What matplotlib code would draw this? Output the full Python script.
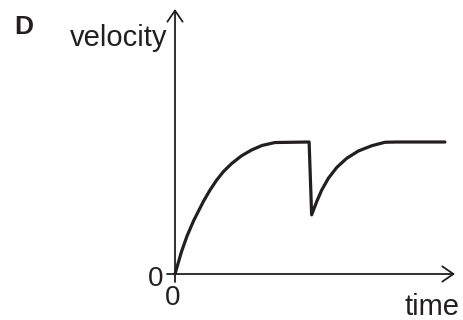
import matplotlib
matplotlib.use('Agg')
import matplotlib.pyplot as plt

plt.rcParams['font.family'] = ['Liberation Sans', 'DejaVu Sans']

# velocity vs time (arbitrary units)
time = [0, 0.06, 0.23, 0.43, 0.67, 1.01, 1.25, 1.49, 1.73, 2.03, 2.38,
        2.74, 3.11, 3.57, 4.79, 4.88, 5.06, 5.24, 5.48, 5.78, 6.13, 6.55,
        7.03, 7.50, 7.93, 9.64]
velocity = [0, 0.22, 0.84, 1.44, 2.03, 2.74, 3.18, 3.56, 3.88, 4.19, 4.48,
            4.70, 4.87, 4.98, 5.0, 2.24, 2.74, 3.18, 3.63, 4.04, 4.38, 4.66,
            4.86, 4.99, 5.0, 5.0]

label = 'D'
xlabel = 'time'
ylabel = 'velocity'
ink = '#231f20'

W, H = 464, 320
fig = plt.figure(figsize=(W / 100, H / 100), dpi=100)
ax = fig.add_axes([0, 0, 1, 1])
# 28 px per time unit, 26.4 px per velocity unit, origin at pixel (175, 274)
ax.set_xlim(-175 / 28, (W - 175) / 28)
ax.set_ylim(-(H - 274) / 26.4, 274 / 26.4)
ax.axis('off')

arrow = dict(arrowstyle='->,head_length=0.8,head_width=0.55',
             color=ink, lw=1.3, shrinkA=0, shrinkB=0)
ax.annotate('', xy=(280 / 28, 0), xytext=(-8 / 28, 0), arrowprops=arrow)
ax.annotate('', xy=(0, 265 / 26.4), xytext=(0, -8 / 26.4), arrowprops=arrow)

ax.plot(time, velocity, color=ink, lw=2.3, solid_joinstyle='round',
        solid_capstyle='round')

def px(x, y):
    return x / W, 1 - y / H

fig.text(*px(24, 27), label, fontsize=19, fontweight='bold', color=ink,
         ha='center', va='center')
fig.text(*px(167, 46), ylabel, fontsize=21, color=ink, ha='right', va='baseline')
fig.text(*px(460, 315), xlabel, fontsize=21, color=ink, ha='right', va='baseline')
fig.text(*px(156, 279), '0', fontsize=20, color=ink, ha='center', va='center')
fig.text(*px(173, 298), '0', fontsize=20, color=ink, ha='center', va='center')

fig.savefig('out.png', dpi=100, facecolor='white')
